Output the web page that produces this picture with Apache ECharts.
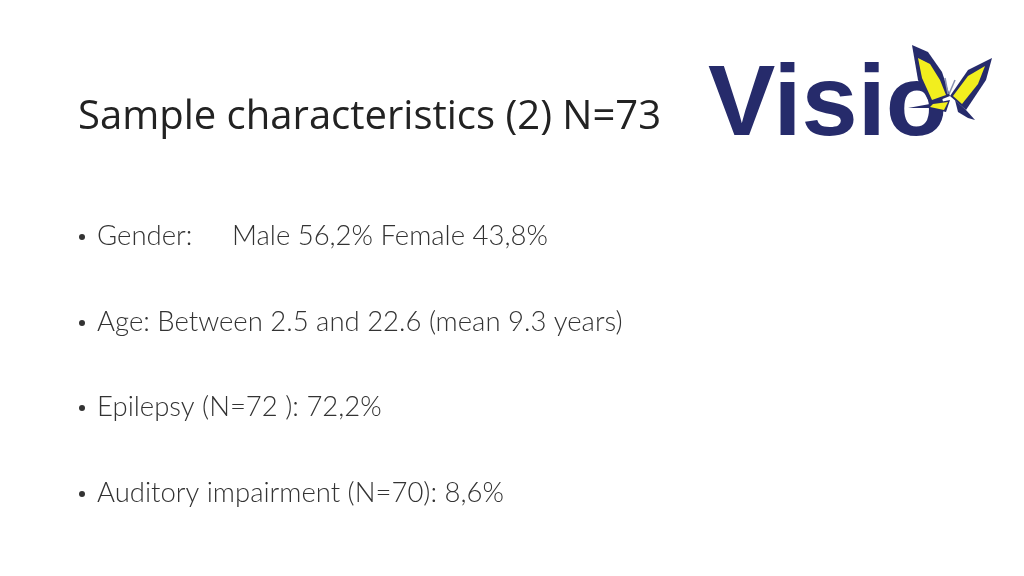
<!DOCTYPE html><html><head><meta charset="utf-8"><script src="https://cdn.jsdelivr.net/npm/echarts@6/dist/echarts.min.js"></script>
<style>html,body{margin:0;padding:0;background:#fff}#c{width:1024px;height:576px}</style></head><body><div id="c"></div><script>
const title = "Sample characteristics (2) N=73";
const bulletLabels = ["Gender:", "Age: Between 2.5 and 22.6 (mean 9.3 years)", "Epilepsy (N=72 ): 72,2%", "Auditory impairment (N=70): 8,6%"];
const bulletExtras = ["Male 56,2% Female 43,8%", "", "", ""];
const logoText = "Visio";
const chart = echarts.init(document.getElementById('c'));
const navy = '#262b6b', yellow = '#f2ee1e';
const g = [];
g.push({type:'text', x:78, y:118, style:{text:title, font:'40px "Open Sans", sans-serif', fill:'#222', verticalAlign:'middle', shadowColor:'rgba(0,0,0,0.3)', shadowBlur:2, shadowOffsetX:1, shadowOffsetY:1}});
const ys = [236, 322, 407, 493];
const f = '300 27.5px Lato, sans-serif';
bulletLabels.forEach((t,i)=>{
  g.push({type:'circle', shape:{cx:82, cy:ys[i]+1, r:3}, style:{fill:'#333'}});
  g.push({type:'text', x:97, y:ys[i], style:{text:t, font:f, fill:'#333', verticalAlign:'middle'}});
  if (bulletExtras[i]) g.push({type:'text', x:232, y:ys[i], style:{text:bulletExtras[i], font:f, fill:'#333', verticalAlign:'middle'}});
});
g.push({type:'text', x:708, y:107, style:{text:logoText, font:'bold 101px "Liberation Sans", sans-serif', fill:navy, verticalAlign:'middle'}});
// butterfly
g.push({type:'polygon', shape:{points:[[912,45],[928,52],[942,72],[950,96],[930,104],[918,80]]}, style:{fill:navy}});
g.push({type:'polygon', shape:{points:[[918,58],[930,64],[940,80],[946,95],[932,100],[922,78]]}, style:{fill:yellow}});
g.push({type:'polygon', shape:{points:[[950,96],[968,70],[992,58],[986,80],[966,110]]}, style:{fill:navy}});
g.push({type:'polygon', shape:{points:[[953,96],[968,76],[985,66],[978,84],[962,104]]}, style:{fill:yellow}});
g.push({type:'polygon', shape:{points:[[930,104],[950,100],[946,112],[928,108],[908,108]]}, style:{fill:navy}});
g.push({type:'polygon', shape:{points:[[933,104],[948,102],[944,110],[930,107]]}, style:{fill:yellow}});
g.push({type:'polygon', shape:{points:[[955,100],[966,110],[975,120],[968,118],[958,112]]}, style:{fill:navy}});
g.push({type:'line', shape:{x1:945,y1:78,x2:948,y2:94}, style:{stroke:'#8890b0', lineWidth:1.5}});
g.push({type:'line', shape:{x1:955,y1:80,x2:949,y2:94}, style:{stroke:'#8890b0', lineWidth:1.5}});
chart.setOption({backgroundColor:'#fff', graphic:g});
</script></body></html>
